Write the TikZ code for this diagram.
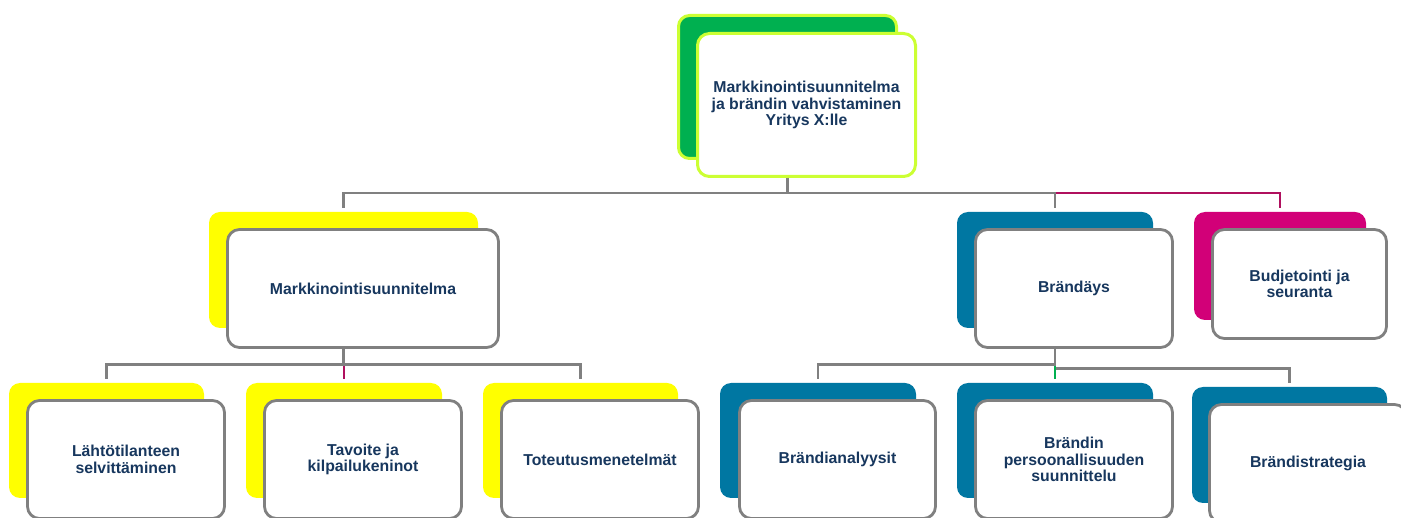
\documentclass[tikz,border=0pt]{standalone}
\usepackage{fontspec}
\setmainfont{Liberation Sans}
\definecolor{navy}{HTML}{17375E}
\definecolor{cardgray}{HTML}{808080}
\definecolor{leaf}{HTML}{00B050}
\definecolor{lime}{HTML}{CCFF33}
\definecolor{sun}{HTML}{FFFF00}
\definecolor{ocean}{HTML}{0077A2}
\definecolor{berry}{HTML}{D20078}
\definecolor{berryline}{HTML}{B0105E}
\begin{document}
\begin{tikzpicture}[x=1pt,y=-1pt,
  label text/.style={font=\bfseries\fontsize{15.8}{16.5}\selectfont, text=navy},
  card/.style={label text, rectangle, draw=cardgray, line width=2.8pt, fill=white,
    rounded corners=12pt, align=center, inner sep=0pt},
  backcard/.style={rectangle, rounded corners=11pt, inner sep=0pt},
  link/.style={draw=cardgray, line width=2.8pt},
]
% canvas
\path[use as bounding box, fill=white] (0,0) rectangle (1401,518);
\clip (0,0) rectangle (1401,518);

% root
\node[backcard, fill=leaf, draw=lime, line width=3pt, minimum width=218pt, minimum height=143pt] (topB) at (787.5,87) {};
\node[card, draw=lime, line width=3pt, minimum width=218pt, minimum height=143pt] (top) at (806.5,105)
  {Markkinointisuunnitelma\\ja brändin vahvistaminen\\Yritys X:lle};

% second level
\node[backcard, fill=sun, minimum width=269pt, minimum height=116pt] (markB) at (343.5,270) {};
\node[card, minimum width=271pt, minimum height=118pt] (mark) at (363,288.5) {Markkinointisuunnitelma};

\node[backcard, fill=ocean, minimum width=196pt, minimum height=116pt] (brandB) at (1055,270) {};
\node[card, minimum width=197pt, minimum height=118pt] (brand) at (1074,288.5) {Brändäys};

\node[backcard, fill=berry, minimum width=172pt, minimum height=108pt] (budgetB) at (1280,266) {};
\node[card, minimum width=174pt, minimum height=109pt] (budget) at (1299.5,284) {Budjetointi ja\\seuranta};

% third level
\node[backcard, fill=sun, minimum width=195pt, minimum height=115pt] (lahtoB) at (106.5,440.5) {};
\node[card, minimum width=197pt, minimum height=118pt] (lahto) at (126,459.5) {Lähtötilanteen\\selvittäminen};

\node[backcard, fill=sun, minimum width=196pt, minimum height=115pt] (tavB) at (344,440.5) {};
\node[card, minimum width=197pt, minimum height=118pt] (tav) at (363,459.5) {Tavoite ja\\kilpailukeninot};

\node[backcard, fill=sun, minimum width=195pt, minimum height=115pt] (totB) at (580.5,440.5) {};
\node[card, minimum width=197pt, minimum height=118pt] (tot) at (600,459.5) {Toteutusmenetelmät};

\node[backcard, fill=ocean, minimum width=196pt, minimum height=115pt] (anaB) at (818,440.5) {};
\node[card, minimum width=196pt, minimum height=118pt] (ana) at (837.5,459.5) {Brändianalyysit};

\node[backcard, fill=ocean, minimum width=196pt, minimum height=115pt] (persB) at (1055,440.5) {};
\node[card, minimum width=197pt, minimum height=118pt] (pers) at (1074,459.5) {Brändin\\persoonallisuuden\\suunnittelu};

\node[backcard, fill=ocean, minimum width=195pt, minimum height=116pt] (stratB) at (1289.5,445) {};
\node[card, minimum width=197pt, minimum height=118pt] (strat) at (1308,463.5) {Brändistrategia};

% connectors from the root
\draw[link, draw=berryline] (topB |- top.south) -- ++(0,15) -| ([yshift=4pt]budgetB.north);
\draw[link] (topB |- top.south) -- ++(0,15) -| ([yshift=4pt]markB.north);
\draw[link] (topB |- top.south) -- ++(0,15) -| ([yshift=4pt]brandB.north);

% connectors from Markkinointisuunnitelma
\draw[link, draw=berryline] (markB |- mark.south) -- ++(0,16) -| ([yshift=4pt]tavB.north);
\draw[link] (markB |- mark.south) -- ++(0,16) -| ([yshift=4pt]lahtoB.north);
\draw[link] (markB |- mark.south) -- ++(0,16) -| ([yshift=4pt]totB.north);

% connectors from Brändäys
\draw[link] (brandB |- brand.south) -- ++(0,20) -| ([yshift=4pt]stratB.north);
\draw[link, draw=leaf] (brandB |- brand.south) -- ++(0,16) -| ([yshift=4pt]persB.north);
\draw[link] (brandB |- brand.south) -- ++(0,16) -| ([yshift=4pt]anaB.north);
\end{tikzpicture}
\end{document}
